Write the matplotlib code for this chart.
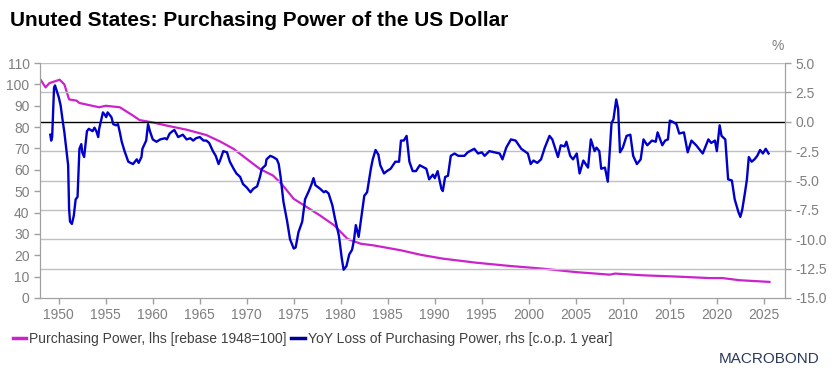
import matplotlib
matplotlib.use('Agg')
import matplotlib.pyplot as plt

# purchasing power, lhs (rebase 1948=100)
pp_year = [1948.1, 1948.6, 1949.0, 1950.1, 1950.6, 1951.1, 1951.9, 1952.2, 1954.3, 1955.0,
           1956.5, 1957.9, 1958.6, 1960.0, 1961.5, 1963.6, 1965.7, 1967.2, 1968.6, 1970.0,
           1971.4, 1972.8, 1973.7, 1975.0, 1976.4, 1977.8, 1979.3, 1980.7, 1982.1, 1983.5,
           1986.4, 1988.5, 1990.85, 1994.4, 1997.9, 2001.5, 2005.0, 2008.6, 2009.2, 2012.1,
           2015.7, 2019.2, 2020.6, 2022.4, 2025.6]
pp_val = [102, 98.6, 100.6, 102.2, 100, 93, 92.4, 91.3, 89.3, 90,
          89.3, 85.4, 83.3, 82.2, 80.7, 78.8, 76.3, 73.2, 69.8, 65.1,
          60.4, 57.3, 53.4, 46.4, 42.5, 38.6, 34, 27.7, 25.4, 24.6,
          22.3, 20.2, 18.4, 16.5, 15.0, 13.7, 12.1, 10.9, 11.4, 10.6,
          10.0, 9.3, 9.3, 8.3, 7.5]

# YoY loss of purchasing power, rhs (%)
yoy_year = [1949.1, 1949.2, 1949.3, 1949.5, 1949.6, 1949.8, 1950.0, 1950.2, 1950.4, 1950.6,
            1950.8, 1951.0, 1951.1, 1951.2, 1951.4, 1951.6, 1951.8, 1952.0, 1952.2, 1952.4,
            1952.5, 1952.7, 1953.0, 1953.2, 1953.6, 1953.8, 1954.0, 1954.2, 1954.3, 1954.7,
            1954.9, 1955.05, 1955.2, 1955.6, 1955.8, 1956.1, 1956.3, 1956.5, 1956.7, 1957.0,
            1957.4, 1957.9, 1958.3, 1958.5, 1958.8, 1958.9, 1959.3, 1959.5, 1959.7, 1960.0,
            1960.4, 1960.8, 1961.3, 1961.5, 1961.8, 1962.1, 1962.3, 1962.7, 1963.2, 1963.6,
            1964.0, 1964.3, 1964.6, 1965.0, 1965.4, 1965.7, 1966.0, 1966.4, 1966.7, 1967.0,
            1967.2, 1967.5, 1967.9, 1968.2, 1968.6, 1968.9, 1969.3, 1969.6, 1970.0, 1970.4,
            1970.7, 1971.1, 1971.4, 1971.6, 1972.0, 1972.1, 1972.5, 1972.8, 1973.2, 1973.4,
            1973.6, 1973.9, 1974.3, 1974.6, 1975.0, 1975.2, 1975.5, 1975.9, 1976.2, 1976.6,
            1976.9, 1977.1, 1977.3, 1977.8, 1978.2, 1978.4, 1978.7, 1979.1, 1979.4, 1979.8,
            1980.1, 1980.3, 1980.6, 1980.9, 1981.2, 1981.4, 1981.6, 1981.9, 1982.3, 1982.5,
            1982.8, 1983.2, 1983.4, 1983.7, 1984.0, 1984.2, 1984.6, 1984.9, 1985.3, 1985.8,
            1986.2, 1986.4, 1986.7, 1987.0, 1987.3, 1987.65, 1988.0, 1988.4, 1989.1, 1989.4,
            1989.8, 1990.0, 1990.3, 1990.7, 1990.85, 1991.1, 1991.4, 1991.7, 1992.1, 1992.5,
            1993.15, 1993.5, 1994.2, 1994.6, 1995.0, 1995.3, 1995.8, 1996.9, 1997.2, 1997.6,
            1998.1, 1998.6, 1999.2, 1999.9, 2000.2, 2000.5, 2000.9, 2001.3, 2001.7, 2002.2,
            2002.5, 2003.1, 2003.4, 2003.8, 2004.0, 2004.4, 2004.7, 2005.1, 2005.4, 2005.8,
            2006.3, 2006.6, 2007.0, 2007.2, 2007.5, 2007.7, 2008.1, 2008.4, 2008.8, 2009.0,
            2009.3, 2009.5, 2009.7, 2010.0, 2010.4, 2010.8, 2011.1, 2011.5, 2011.9, 2012.2,
            2012.6, 2013.1, 2013.5, 2013.7, 2014.2, 2014.5, 2014.8, 2015.0, 2015.3, 2015.7,
            2016.0, 2016.5, 2016.9, 2017.3, 2017.8, 2018.5, 2019.1, 2019.4, 2019.8, 2020.0,
            2020.3, 2020.5, 2020.9, 2021.2, 2021.6, 2021.9, 2022.3, 2022.5, 2022.7, 2023.0,
            2023.2, 2023.4, 2023.7, 2024.0, 2024.3, 2024.6, 2024.9, 2025.2, 2025.5]
yoy_val = [-1.1, -1.6, -1.3, 2.9, 3.1, 2.6, 2.1, 1.4, 0.2, -0.9,
           -2.3, -3.7, -7.4, -8.5, -8.7, -8.0, -6.6, -6.4, -2.3, -1.9,
           -2.6, -3.0, -0.8, -0.6, -0.8, -0.5, -0.8, -1.3, -0.6, 0.8,
           0.6, 0.4, 0.8, 0.4, -0.2, -0.3, -0.2, -0.9, -1.7, -2.5,
           -3.4, -3.6, -3.2, -3.5, -3.0, -2.3, -1.6, -0.2, -0.8, -1.5,
           -1.7, -1.5, -1.4, -1.5, -1.0, -0.8, -0.7, -1.3, -1.1, -1.5,
           -1.4, -1.6, -1.4, -1.3, -1.6, -1.6, -1.8, -2.5, -2.9, -3.6,
           -3.2, -2.5, -2.6, -3.4, -4.0, -4.4, -4.7, -5.3, -5.6, -6.0,
           -5.7, -5.5, -4.7, -4.0, -3.7, -3.2, -2.9, -3.0, -3.2, -3.6,
           -4.7, -6.8, -8.5, -10.0, -10.8, -10.7, -9.4, -8.5, -6.6, -5.9,
           -5.3, -4.8, -5.4, -5.7, -6.0, -5.9, -6.1, -7.1, -8.3, -9.7,
           -11.6, -12.6, -12.3, -11.3, -10.9, -10.1, -8.8, -9.8, -7.5, -6.3,
           -6.0, -4.0, -3.2, -2.4, -2.8, -3.7, -4.4, -4.2, -4.0, -3.4,
           -3.4, -1.6, -1.6, -1.2, -3.4, -4.2, -4.2, -3.7, -4.0, -4.9,
           -4.5, -4.8, -4.2, -5.7, -5.9, -4.7, -4.6, -2.9, -2.7, -2.9,
           -2.9, -2.6, -2.3, -2.7, -2.6, -2.9, -2.5, -2.7, -3.2, -2.2,
           -1.5, -1.6, -2.3, -2.7, -3.6, -3.3, -3.5, -3.2, -2.2, -1.2,
           -1.5, -3.0, -2.0, -2.1, -1.7, -2.9, -3.2, -2.7, -4.4, -3.3,
           -3.9, -1.5, -2.5, -2.2, -2.5, -4.0, -3.9, -5.1, -0.1, 0.2,
           1.9, 1.1, -2.6, -2.2, -1.2, -1.1, -2.9, -3.6, -3.2, -1.5,
           -2.0, -1.6, -1.7, -0.9, -2.0, -1.6, -1.5, 0.1, 0.0, -0.2,
           -1.0, -0.9, -2.6, -1.6, -2.0, -2.7, -1.5, -1.8, -1.6, -2.5,
           -0.3, -1.2, -1.5, -4.9, -5.0, -6.6, -7.7, -8.1, -7.5, -6.0,
           -4.9, -3.0, -3.4, -3.2, -2.9, -2.4, -2.7, -2.3, -2.7]

yoy_ticks = [5, 2.5, 0, -2.5, -5, -7.5, -10, -12.5, -15]

pp_color = '#cc22cc'
yoy_color = '#0000cc'
grey = '#7f7f7f'

plt.rcParams['font.family'] = ['Liberation Sans', 'DejaVu Sans']

fig = plt.figure(figsize=(8.32, 3.8), dpi=100)
ax = fig.add_axes([0.048, 0.216, 0.8955, 0.618])
ax2 = ax.twinx()

ax.plot(pp_year, pp_val, color=pp_color, lw=1.6, zorder=2)
ax2.plot(yoy_year, yoy_val, color=yoy_color, lw=1.7, zorder=3)
ax2.axhline(0, color='black', lw=1.0, zorder=2)

ax.set_xlim(1948.0, 2027.25)
ax.set_ylim(0, 110)
ax2.set_ylim(-15, 5)
ax.set_yticks(range(0, 111, 10))
ax2.set_yticks(yoy_ticks)
ax2.set_yticklabels(['%.1f' % v for v in yoy_ticks])
ax.set_xticks(range(1950, 2026, 5))

for v in yoy_ticks[:-1]:
    if v != 0:
        ax2.axhline(v, color='#c0c0c0', lw=1.0, zorder=1)

for a in (ax, ax2):
    a.spines['top'].set_visible(False)
    for s in ('left', 'right', 'bottom'):
        a.spines[s].set_color('#a0a0a0')
    a.tick_params(colors='#a0a0a0', labelcolor=grey, labelsize=10, length=4, width=1)
ax.set_facecolor('none')
ax2.patch.set_visible(False)

fig.text(0.012, 0.945, 'Unuted States: Purchasing Power of the US Dollar', fontsize=15,
         fontweight='bold', color='black', ha='left', va='center')
fig.text(0.935, 0.88, '%', fontsize=10, color=grey, ha='center', va='center')

# legend
ax.plot([], [], color=pp_color, lw=2.5, label='Purchasing Power, lhs [rebase 1948=100]')
ax.plot([], [], color='#000099', lw=2.5, label='YoY Loss of Purchasing Power, rhs [c.o.p. 1 year]')
fig.legend(loc='upper left', bbox_to_anchor=(0.0, 0.16), ncol=2, frameon=False, fontsize=10,
           handlelength=1.0, handletextpad=0.2, columnspacing=0.3, labelcolor='#404040')

fig.text(0.985, 0.055, 'MACROBOND', fontsize=11, color='#2a3a5a', ha='right', va='center')

fig.savefig('out.png', dpi=100)
